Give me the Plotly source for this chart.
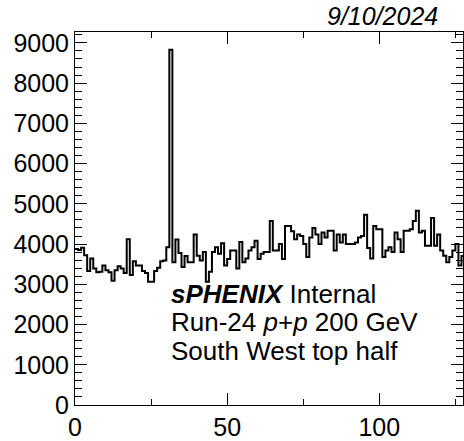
import numpy as np
import plotly.graph_objects as go

# Channel occupancy, one entry per channel (0..127)
channel_counts = [
    3880, 3850, 3910, 3720, 3330, 3640, 3390, 3300, 3310, 3470,
    3350, 3300, 3090, 3350, 3450, 3390, 3280, 4120, 3230, 3570,
    3470, 3470, 3330, 3280, 3060, 3060, 3330, 3410, 3570, 3590,
    3920, 8830, 3550, 4110, 3780, 3430, 3700, 3550, 3550, 4240,
    3710, 3590, 3800, 3060, 3310, 3800, 3920, 3760, 4020, 3470,
    3630, 3840, 3840, 3390, 4050, 3550, 3640, 3840, 3920, 4080,
    3630, 3760, 3800, 3800, 4570, 3840, 3840, 4000, 3630, 4450,
    4450, 4320, 4120, 4240, 4200, 4000, 3680, 4160, 4400, 4240,
    4000, 4290, 4160, 4330, 4330, 3840, 4240, 4040, 4240, 4000,
    4000, 4000, 4040, 4160, 4200, 4730, 3900, 3640, 4450, 4370,
    4370, 3680, 3840, 3920, 3800, 4290, 4120, 3800, 4330, 4330,
    4370, 4570, 4830, 4290, 4330, 3960, 3960, 4650, 3960, 4240,
    3840, 3710, 3550, 3680, 3840, 4000, 3470, 3700,
]

x_tick_values = [0, 50, 100]
y_tick_values = [0, 1000, 2000, 3000, 4000, 5000, 6000, 7000, 8000, 9000]

date_label = "9/10/2024"
label_lines = [
    "<b><i>sPHENIX</i></b> Internal",
    "Run-24 <i>p</i>+<i>p</i> 200 GeV",
    "South West top half",
]

# step outline: bin edges with the last count repeated to close the final bin
edges = np.arange(len(channel_counts) + 1)
step_y = list(channel_counts) + [channel_counts[-1]]

FONT = "Liberation Sans, Arial, sans-serif"

fig = go.Figure(
    go.Scatter(
        x=edges,
        y=step_y,
        mode="lines",
        line=dict(color="black", width=2, shape="hv"),
        hoverinfo="skip",
    )
)

axis_common = dict(
    showline=True,
    linecolor="black",
    linewidth=1,
    mirror="allticks",
    ticks="inside",
    tickcolor="black",
    tickwidth=1,
    showgrid=False,
    zeroline=False,
    tickfont=dict(family=FONT, size=25, color="black"),
)

fig.update_xaxes(
    range=[0, 127.5],
    tickvals=x_tick_values,
    ticklen=12,
    minor=dict(dtick=25, ticklen=6, ticks="inside", tickcolor="black", showgrid=False),
    **axis_common,
)
fig.update_yaxes(
    range=[0, 9270],
    tickvals=y_tick_values,
    tickformat="d",
    ticklen=12,
    minor=dict(dtick=200, ticklen=7, ticks="inside", tickcolor="black", showgrid=False),
    **axis_common,
)

annotations = [
    dict(
        text="<i>" + date_label + "</i>",
        xref="paper", yref="paper",
        x=0.941, y=1.0,
        xanchor="right", yanchor="bottom",
        showarrow=False,
        font=dict(family=FONT, size=25, color="black"),
    )
]
line_y = [0.298, 0.2237, 0.146]
for txt, yy in zip(label_lines, line_y):
    annotations.append(
        dict(
            text=txt,
            xref="paper", yref="paper",
            x=0.2442, y=yy,
            xanchor="left", yanchor="middle",
            showarrow=False,
            borderpad=0,
            font=dict(family=FONT, size=26, color="black"),
        )
    )

fig.update_layout(
    width=464,
    height=441,
    autosize=False,
    margin=dict(l=75, r=0, t=32, b=29),
    paper_bgcolor="white",
    plot_bgcolor="white",
    showlegend=False,
    annotations=annotations,
)

fig.write_html("out.html")
